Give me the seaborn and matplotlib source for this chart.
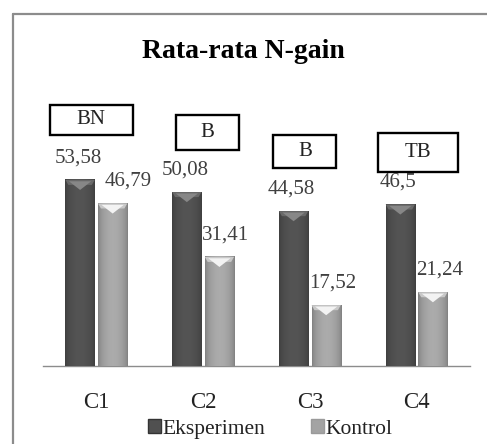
import numpy as np
import pandas as pd
import matplotlib
matplotlib.use("Agg")
import matplotlib.pyplot as plt
import seaborn as sns
from matplotlib.colors import to_rgb
from matplotlib.patches import Rectangle, Polygon, Patch
from matplotlib.lines import Line2D

sns.set_style("white")
plt.rcParams["font.family"] = ["Liberation Serif", "DejaVu Serif"]

# data
categories = ["C1", "C2", "C3", "C4"]
eksperimen = [53.58, 50.08, 44.58, 46.5]
kontrol = [46.79, 31.41, 17.52, 21.24]
kriteria = ["BN", "B", "B", "TB"]
groups = ["Eksperimen", "Kontrol"]

COLORS = ["#505050", "#a3a3a3"]

df = pd.DataFrame({
    "kategori": categories * 2,
    "nilai": eksperimen + kontrol,
    "kelompok": [groups[0]] * 4 + [groups[1]] * 4,
})


def shade_bar(ax, patch, base):
    """Fake the Excel cylinder/bevel look with a gradient and a light top."""
    x0, w, h = patch.get_x(), patch.get_width(), patch.get_height()
    t = np.linspace(0, 1, 64)
    prof = 0.78 + 0.27 * np.sin(np.pi * t) ** 0.6
    rgb = np.clip(np.array(to_rgb(base))[None, :] * prof[:, None], 0, 1)
    ax.imshow(rgb[None, :, :], extent=[x0, x0 + w, 0, h], aspect="auto",
              interpolation="bilinear", zorder=3)
    bh = 2.9
    c = np.array(to_rgb(base))
    rim = np.clip(c * 1.15 + 0.05, 0, 1)
    top = np.clip(c * 1.3 + 0.12, 0, 1)
    # rim strip along the top and the V-shaped light facet
    ax.add_patch(Polygon([(x0, h), (x0 + w, h), (x0 + w * 0.9, h - bh * 0.5),
                          (x0 + w * 0.1, h - bh * 0.5)], closed=True,
                         facecolor=rim, edgecolor="none", zorder=4))
    ax.add_patch(Polygon([(x0 + w * 0.12, h - 0.4), (x0 + w * 0.88, h - 0.4),
                          (x0 + w * 0.5, h - bh)], closed=True,
                         facecolor=top, edgecolor="none", zorder=4))


fig = plt.figure(figsize=(4.87, 4.44), dpi=100)
ax = fig.add_axes([43 / 487, 1 - 366 / 444, 427 / 487, 264 / 444])

sns.barplot(data=df, x="kategori", y="nilai", hue="kelompok", palette=COLORS,
            width=0.61, gap=0.1, ax=ax, legend=False, zorder=2)

for container, col in zip(ax.containers, COLORS):
    for p in container.patches:
        shade_bar(ax, p, col)

for i, container in enumerate(ax.containers):
    vals = [eksperimen, kontrol][i]
    labs = [f"{v:g}".replace(".", ",") for v in vals]
    anns = ax.bar_label(container, labels=labs, padding=9, fontsize=15,
                        color="#404040", zorder=6)
    # Excel nudged the Kontrol labels to the right of their bars
    if i == 1:
        for j, a in enumerate(anns):
            a.xyann = (11 if j == 0 else 4.5, 9)
    else:
        for a in anns:
            a.xyann = (-1.5, 9)

ax.set_xlim(-0.5, 3.5)
ax.set_ylim(0, 76)
ax.set_xlabel("")
ax.set_ylabel("")
ax.set_yticks([])
ax.tick_params(axis="x", length=0, pad=19, labelsize=16.5, labelcolor="#222222")
for s in ["top", "left", "right"]:
    ax.spines[s].set_visible(False)
ax.spines["bottom"].set_color("#8c8c8c")
ax.spines["bottom"].set_linewidth(1)

# criteria boxes above each pair
boxes = [(-0.435, 0.341, 66.6, 75.2), (0.743, 1.332, 62.2, 72.3),
         (1.659, 2.248, 57.1, 66.6), (2.640, 3.388, 55.9, 67.1)]
for lab, (bx0, bx1, by0, by1) in zip(kriteria, boxes):
    ax.add_patch(Rectangle((bx0, by0), bx1 - bx0, by1 - by0, fill=False,
                           edgecolor="black", linewidth=1.7, zorder=5,
                           clip_on=False))
    ax.text((bx0 + bx1) / 2, (by0 + by1) / 2, lab, ha="center", va="center",
            fontsize=15, color="#222222", zorder=6)

fig.text(0.5, 1 - 52 / 444, "Rata-rata N-gain", ha="center", va="center",
         fontsize=20, fontweight="bold", color="black")

handles = [Patch(facecolor=c, edgecolor="#9a9a9a" if i else "#333333")
           for i, c in enumerate(COLORS)]
fig.legend(handles, groups, loc="center", bbox_to_anchor=(0.555, 1 - 429 / 444),
           ncol=2, frameon=False, fontsize=15.5, handlelength=0.6,
           handleheight=0.6, handletextpad=0.1, columnspacing=2.1,
           labelcolor="#222222")

# chart-area border (only top and left visible in the crop)
fig.add_artist(Line2D([13 / 487, 13 / 487], [0, 1 - 14 / 444], color="#8c8c8c",
                      linewidth=1.6, transform=fig.transFigure))
fig.add_artist(Line2D([13 / 487, 1], [1 - 14 / 444, 1 - 14 / 444],
                      color="#8c8c8c", linewidth=1.6, transform=fig.transFigure))

fig.savefig("out.png", dpi=100)
